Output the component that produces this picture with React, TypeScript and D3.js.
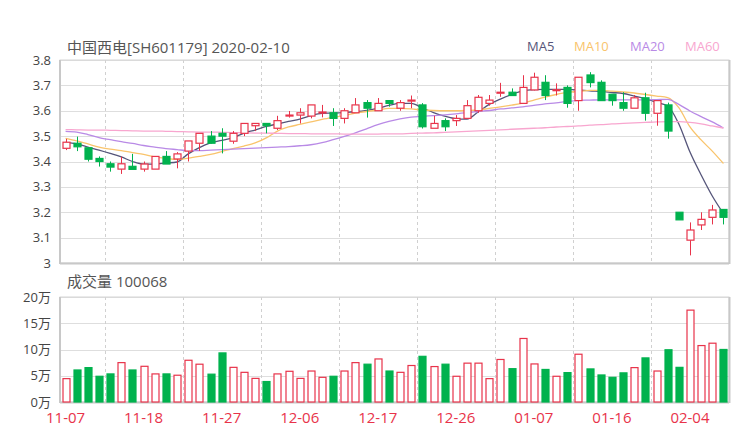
import * as d3 from "d3";

const dates = [
  "11-07", "11-08", "11-11", "11-12", "11-13", "11-14", "11-15", "11-18", "11-19", "11-20",
  "11-21", "11-22", "11-25", "11-26", "11-27", "11-28", "11-29", "12-02", "12-03", "12-04",
  "12-05", "12-06", "12-09", "12-10", "12-11", "12-12", "12-13", "12-16", "12-17", "12-18",
  "12-19", "12-20", "12-23", "12-24", "12-25", "12-26", "12-27", "12-30", "12-31", "01-02",
  "01-03", "01-06", "01-07", "01-08", "01-09", "01-10", "01-13", "01-14", "01-15", "01-16",
  "01-17", "01-20", "01-21", "01-22", "01-23", "02-03", "02-04", "02-05", "02-06", "02-07",
];

const opens = [
  3.452, 3.472, 3.454, 3.412, 3.391, 3.37, 3.381, 3.37, 3.37, 3.42,
  3.41, 3.441, 3.472, 3.5, 3.511, 3.48, 3.511, 3.541, 3.55, 3.531,
  3.58, 3.583, 3.579, 3.593, 3.592, 3.57, 3.592, 3.632, 3.6, 3.64,
  3.61, 3.638, 3.623, 3.531, 3.561, 3.561, 3.57, 3.6, 3.629, 3.67,
  3.673, 3.629, 3.682, 3.712, 3.68, 3.692, 3.64, 3.741, 3.712, 3.665,
  3.632, 3.61, 3.651, 3.59, 3.623, 3.2, 3.09, 3.15, 3.18, 3.211,
];
const highs = [
  3.489, 3.498, 3.456, 3.42, 3.4, 3.419, 3.43, 3.4, 3.42, 3.441,
  3.437, 3.481, 3.511, 3.52, 3.531, 3.52, 3.55, 3.55, 3.55, 3.58,
  3.599, 3.61, 3.623, 3.623, 3.61, 3.61, 3.65, 3.642, 3.65, 3.64,
  3.642, 3.66, 3.63, 3.58, 3.57, 3.583, 3.642, 3.662, 3.662, 3.71,
  3.688, 3.74, 3.75, 3.74, 3.708, 3.7, 3.732, 3.752, 3.72, 3.665,
  3.673, 3.662, 3.671, 3.64, 3.632, 3.2, 3.16, 3.2, 3.229, 3.211,
];
const lows = [
  3.445, 3.441, 3.4, 3.38, 3.36, 3.351, 3.369, 3.36, 3.37, 3.39,
  3.373, 3.4, 3.442, 3.47, 3.432, 3.47, 3.5, 3.52, 3.511, 3.524,
  3.573, 3.55, 3.57, 3.574, 3.54, 3.55, 3.592, 3.573, 3.6, 3.616,
  3.6, 3.61, 3.53, 3.531, 3.52, 3.54, 3.57, 3.592, 3.62, 3.655,
  3.66, 3.629, 3.68, 3.642, 3.66, 3.612, 3.6, 3.692, 3.64, 3.62,
  3.6, 3.61, 3.561, 3.541, 3.49, 3.17, 3.03, 3.13, 3.152, 3.152,
];
const closes = [
  3.476, 3.458, 3.409, 3.4, 3.378, 3.391, 3.369, 3.39, 3.42, 3.39,
  3.43, 3.481, 3.511, 3.472, 3.5, 3.511, 3.55, 3.55, 3.541, 3.561,
  3.583, 3.592, 3.623, 3.595, 3.57, 3.6, 3.623, 3.61, 3.629, 3.629,
  3.632, 3.642, 3.537, 3.55, 3.537, 3.57, 3.62, 3.653, 3.642, 3.673,
  3.66, 3.692, 3.732, 3.66, 3.683, 3.629, 3.732, 3.711, 3.64, 3.64,
  3.61, 3.651, 3.59, 3.64, 3.52, 3.17, 3.13, 3.172, 3.209, 3.18,
];

// volume in 万
const volumes = [
  4.45, 6.1, 6.55, 4.9, 5.35, 7.5, 6.1, 6.8, 5.35, 5.35,
  5.1, 7.95, 7.2, 5.3, 9.35, 6.6, 5.65, 4.5, 3.9, 5.35,
  5.85, 4.5, 5.9, 4.7, 4.9, 5.9, 7.5, 7.2, 8.2, 5.9,
  5.65, 6.95, 8.7, 6.75, 7.2, 4.9, 7.4, 7.4, 4.45, 8.1,
  6.35, 12.1, 7.25, 6.2, 4.9, 5.6, 9.1, 6.3, 5.15, 4.7,
  5.55, 6.55, 8.4, 5.9, 9.95, 6.6, 17.5, 10.75, 11.2, 10.0068,
];

const ma5 = [
  3.475, 3.469, 3.457, 3.445, 3.432, 3.418, 3.4, 3.39, 3.39, 3.394,
  3.398, 3.43, 3.455, 3.473, 3.483, 3.493, 3.512, 3.524, 3.538, 3.548,
  3.558, 3.567, 3.581, 3.59, 3.591, 3.593, 3.596, 3.601, 3.609, 3.621,
  3.629, 3.629, 3.611, 3.593, 3.579, 3.569, 3.567, 3.595, 3.625, 3.646,
  3.664, 3.678, 3.683, 3.684, 3.684, 3.684, 3.682, 3.678, 3.676, 3.672,
  3.668, 3.658, 3.648, 3.633, 3.619, 3.548, 3.437, 3.347, 3.264, 3.195,
];
const ma10 = [
  3.491, 3.481, 3.469, 3.457, 3.449, 3.443, 3.435, 3.428, 3.418, 3.412,
  3.408, 3.413, 3.42, 3.428, 3.439, 3.451, 3.461, 3.473, 3.493, 3.52,
  3.536, 3.546, 3.556, 3.566, 3.574, 3.581, 3.591, 3.597, 3.603, 3.609,
  3.609, 3.607, 3.603, 3.601, 3.6, 3.6, 3.601, 3.603, 3.609, 3.615,
  3.622, 3.63, 3.642, 3.654, 3.664, 3.672, 3.676, 3.68, 3.68, 3.677,
  3.674, 3.67, 3.664, 3.658, 3.652, 3.612, 3.536, 3.485, 3.441, 3.392,
];
const ma20 = [
  3.519, 3.516, 3.506, 3.494, 3.486, 3.478, 3.471, 3.463, 3.457, 3.451,
  3.447, 3.443, 3.443, 3.445, 3.447, 3.449, 3.451, 3.453, 3.455, 3.457,
  3.459, 3.462, 3.466, 3.474, 3.486, 3.499, 3.513, 3.529, 3.545, 3.558,
  3.568, 3.575, 3.578, 3.581, 3.584, 3.588, 3.593, 3.597, 3.601, 3.607,
  3.611, 3.615, 3.621, 3.627, 3.631, 3.637, 3.641, 3.642, 3.643, 3.643,
  3.643, 3.643, 3.643, 3.644, 3.645, 3.625, 3.599, 3.577, 3.556, 3.532,
];
const ma60 = [
  3.526, 3.525, 3.524, 3.524, 3.523, 3.522, 3.521, 3.52, 3.52, 3.519,
  3.518, 3.517, 3.516, 3.516, 3.515, 3.514, 3.513, 3.512, 3.512, 3.511,
  3.51, 3.51, 3.509, 3.509, 3.509, 3.508, 3.508, 3.508, 3.508, 3.509,
  3.509, 3.511, 3.512, 3.513, 3.515, 3.517, 3.519, 3.521, 3.523, 3.525,
  3.527, 3.529, 3.531, 3.533, 3.536, 3.538, 3.54, 3.543, 3.545, 3.548,
  3.55, 3.552, 3.554, 3.556, 3.557, 3.557, 3.554, 3.548, 3.54, 3.532,
];

const priceTicks = [3, 3.1, 3.2, 3.3, 3.4, 3.5, 3.6, 3.7, 3.8];
const volTicks = [0, 5, 10, 15, 20];
const labelIdx = [0, 7, 14, 21, 28, 35, 42, 49, 56];
const splitIdx = [4, 11, 18, 25, 32, 39, 46, 53];

const maSeries = [
  { name: "MA5", values: ma5, color: "#55557a" },
  { name: "MA10", values: ma10, color: "#f9c46c" },
  { name: "MA20", values: ma20, color: "#b98ae6" },
  { name: "MA60", values: ma60, color: "#f8a6cf" },
];
const legendX = [527, 574, 630, 685];

const RED = "#e8334a";
const GREEN = "#00b24e";
const FONT = "'Open Sans', 'Noto Sans CJK SC', sans-serif";

export default function App() {
  const left = 60;
  const right = 729;
  const x = d3.scaleBand<string>().domain(dates).range([left, right]).padding(0);
  const bw = x.bandwidth();
  const cx = (i: number) => (x(dates[i]) as number) + bw / 2;
  const boxW = 7;

  const y = d3.scaleLinear().domain([3, 3.8]).range([263, 60]);
  const vy = d3.scaleLinear().domain([0, 20]).range([402, 297]);

  const lineFor = (vals: number[]) =>
    d3
      .line<number>()
      .x((_, i) => cx(i))
      .y((v) => y(v))
      .curve(d3.curveMonotoneX)(vals) as string;

  return (
    <svg
      width={740}
      height={440}
      style={{ position: "absolute", left: 0, top: 0, background: "#fff" }}
      fontFamily={FONT}
    >
      <text x={67} y={53} fontSize={15} fill="#555">
        中国西电[SH601179] 2020-02-10
      </text>
      {maSeries.map((s, k) => (
        <text key={s.name} x={legendX[k]} y={51} fontSize={13} fill={s.color}>
          {s.name}
        </text>
      ))}

      {/* price grid */}
      {priceTicks.map((t) => (
        <g key={t}>
          <line x1={left} x2={right} y1={Math.round(y(t)) + 0.5} y2={Math.round(y(t)) + 0.5} stroke="#dedede" />
          <text x={51} y={y(t) + 4.5} fontSize={13} fill="#444" textAnchor="end">
            {t}
          </text>
        </g>
      ))}
      {splitIdx.map((i) => (
        <line
          key={i}
          x1={Math.round(x(dates[i]) as number) + 0.5}
          x2={Math.round(x(dates[i]) as number) + 0.5}
          y1={60}
          y2={263}
          stroke="#d0d0d0"
          strokeDasharray="3,3"
        />
      ))}
      <rect x={left} y={60} width={right - left} height={203} fill="none" stroke="#d6d6d6" />
      <line x1={left} x2={left} y1={60} y2={264} stroke="#c8c8c8" strokeWidth={2} />
      <line x1={left} x2={right} y1={263.5} y2={263.5} stroke="#c8c8c8" strokeWidth={2} />
      <line x1={right + 0.5} x2={right + 0.5} y1={60} y2={264} stroke="#c8c8c8" strokeWidth={2} />

      {/* MA lines */}
      {maSeries.map((s) => (
        <path key={s.name} d={lineFor(s.values)} fill="none" stroke={s.color} strokeWidth={1.3} />
      ))}

      {/* candles */}
      {dates.map((d, i) => {
        const up = closes[i] >= opens[i];
        const c = up ? RED : GREEN;
        const xc = Math.round(cx(i)) + 0.5;
        const top = y(Math.max(opens[i], closes[i]));
        const bot = y(Math.min(opens[i], closes[i]));
        const h = Math.max(1, bot - top);
        return (
          <g key={d}>
            <line x1={xc} x2={xc} y1={y(highs[i])} y2={top} stroke={c} />
            <line x1={xc} x2={xc} y1={top + h} y2={y(lows[i])} stroke={c} />
            <rect
              x={xc - boxW / 2}
              y={top}
              width={boxW}
              height={h}
              fill={up ? "#fff" : c}
              stroke={c}
              strokeWidth={1.2}
            />
          </g>
        );
      })}

      {/* volume panel */}
      <text x={67} y={287} fontSize={15} fill="#555">
        成交量 100068
      </text>
      {volTicks.map((t) => (
        <g key={t}>
          <line x1={left} x2={right} y1={Math.round(vy(t)) + 0.5} y2={Math.round(vy(t)) + 0.5} stroke="#dedede" />
          <text x={51} y={vy(t) + 4.5} fontSize={13} fill="#444" textAnchor="end">
            {t}万
          </text>
        </g>
      ))}
      {splitIdx.map((i) => (
        <line
          key={i}
          x1={Math.round(x(dates[i]) as number) + 0.5}
          x2={Math.round(x(dates[i]) as number) + 0.5}
          y1={297}
          y2={402}
          stroke="#d0d0d0"
          strokeDasharray="3,3"
        />
      ))}
      <rect x={left} y={297} width={right - left} height={105} fill="none" stroke="#d6d6d6" />
      <line x1={left} x2={left} y1={297} y2={403} stroke="#c8c8c8" strokeWidth={2} />
      <line x1={left} x2={right} y1={402.5} y2={402.5} stroke="#c8c8c8" strokeWidth={2} />
      <line x1={right + 0.5} x2={right + 0.5} y1={297} y2={403} stroke="#c8c8c8" strokeWidth={2} />

      {dates.map((d, i) => {
        const up = closes[i] >= opens[i];
        const c = up ? RED : GREEN;
        const xc = Math.round(cx(i)) + 0.5;
        return (
          <rect
            key={d}
            x={xc - 3.5}
            y={vy(volumes[i])}
            width={7}
            height={vy(0) - vy(volumes[i])}
            fill={up ? "#fff" : c}
            stroke={c}
            strokeWidth={1.2}
          />
        );
      })}

      {labelIdx.map((i) => (
        <text key={i} x={cx(i)} y={423} fontSize={15} fill={RED} textAnchor="middle">
          {dates[i]}
        </text>
      ))}
    </svg>
  );
}
